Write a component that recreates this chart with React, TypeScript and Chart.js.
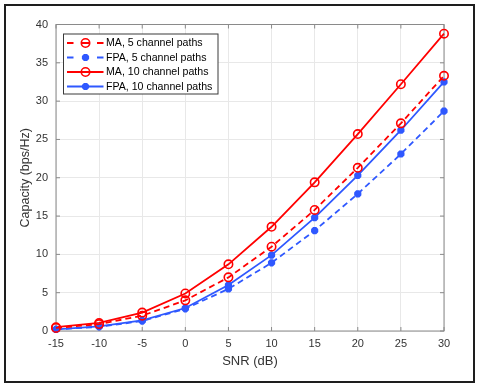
import React, { useEffect, useRef } from "react";
import { Chart, registerables } from "chart.js";

Chart.register(...registerables);

const snr = [-15, -10, -5, 0, 5, 10, 15, 20, 25, 30];
const ma5 = [0.4, 0.9, 2.0, 4.0, 7.0, 11.0, 15.8, 21.3, 27.1, 33.3];
const fpa5 = [0.2, 0.55, 1.3, 2.9, 5.5, 8.9, 13.1, 17.9, 23.1, 28.7];
const ma10 = [0.5, 1.05, 2.4, 4.9, 8.7, 13.6, 19.4, 25.7, 32.2, 38.8];
const fpa10 = [0.2, 0.6, 1.4, 3.0, 6.0, 9.9, 14.8, 20.3, 26.2, 32.5];
const seriesLabels = [
  "MA, 5 channel paths",
  "FPA, 5 channel paths",
  "MA, 10 channel paths",
  "FPA, 10 channel paths",
];
const xTitle = "SNR (dB)";
const yTitle = "Capacity (bps/Hz)";

const RED = "#ff0000";
const BLUE = "#2f58ff";
const FONT = "'Liberation Sans', Arial, Helvetica, sans-serif";
const AXIS = "#8a8a8a";

function drawMarker(ctx: CanvasRenderingContext2D, style: string, x: number, y: number, r: number, color: string, bw: number) {
  ctx.save();
  ctx.strokeStyle = color;
  ctx.lineWidth = bw;
  ctx.setLineDash([]);
  ctx.beginPath();
  if (style === "circle") {
    ctx.arc(x, y, r, 0, Math.PI * 2);
  } else {
    for (let i = 0; i < 4; i++) {
      const a = (i * Math.PI) / 4;
      ctx.moveTo(x - Math.cos(a) * r, y - Math.sin(a) * r);
      ctx.lineTo(x + Math.cos(a) * r, y + Math.sin(a) * r);
    }
  }
  ctx.stroke();
  ctx.restore();
}

const boxPlugin = {
  id: "boxTicks",
  beforeDatasetsDraw(chart: any) {
    const { ctx, chartArea: a, scales } = chart;
    ctx.save();
    ctx.strokeStyle = AXIS;
    ctx.lineWidth = 1;
    ctx.setLineDash([]);
    ctx.strokeRect(a.left, a.top, a.right - a.left, a.bottom - a.top);
    const tl = 4;
    ctx.beginPath();
    scales.x.ticks.forEach((t: any) => {
      const px = scales.x.getPixelForValue(t.value);
      ctx.moveTo(px, a.bottom);
      ctx.lineTo(px, a.bottom - tl);
      ctx.moveTo(px, a.top);
      ctx.lineTo(px, a.top + tl);
    });
    scales.y.ticks.forEach((t: any) => {
      const py = scales.y.getPixelForValue(t.value);
      ctx.moveTo(a.left, py);
      ctx.lineTo(a.left + tl, py);
      ctx.moveTo(a.right, py);
      ctx.lineTo(a.right - tl, py);
    });
    ctx.stroke();
    ctx.restore();
  },
};

const legendPlugin = {
  id: "innerLegend",
  afterDraw(chart: any) {
    const { ctx, chartArea: a } = chart;
    const left = a.left + 7.5;
    const top = a.top + 9.5;
    const w = 154.5;
    const h = 60;
    ctx.save();
    ctx.fillStyle = "#ffffff";
    ctx.fillRect(left, top, w, h);
    ctx.strokeStyle = "#3a3a3a";
    ctx.lineWidth = 1;
    ctx.strokeRect(left, top, w, h);
    chart.data.datasets.forEach((ds: any, i: number) => {
      const y = top + 9 + i * 14.5;
      ctx.strokeStyle = ds.borderColor;
      ctx.lineWidth = ds.borderWidth;
      ctx.setLineDash([]);
      ctx.beginPath();
      if (ds.borderDash && ds.borderDash.length) {
        ctx.moveTo(left + 3.5, y);
        ctx.lineTo(left + 10, y);
        ctx.moveTo(left + 33.5, y);
        ctx.lineTo(left + 40, y);
        if (ds.pointStyle === "circle") {
          ctx.moveTo(left + 18.5, y);
          ctx.lineTo(left + 25.5, y);
        }
      } else {
        ctx.moveTo(left + 3.5, y);
        ctx.lineTo(left + 40, y);
      }
      ctx.stroke();
      drawMarker(ctx, ds.pointStyle, left + 22, y, ds.pointRadius, ds.borderColor, ds.pointBorderWidth);
      ctx.fillStyle = "#000000";
      ctx.font = `10.6px ${FONT}`;
      ctx.textBaseline = "middle";
      ctx.textAlign = "left";
      ctx.fillText(ds.label, left + 42.5, y + 0.5);
    });
    ctx.restore();
  },
};

function mk(label: string, data: number[], color: string, dashed: boolean, style: string) {
  const isCircle = style === "circle";
  return {
    label,
    data: snr.map((x, i) => ({ x, y: data[i] })),
    borderColor: color,
    backgroundColor: "rgba(0,0,0,0)",
    borderWidth: 1.8,
    borderDash: dashed ? [6, 4] : [],
    pointStyle: style,
    pointRadius: isCircle ? 4.2 : 3.6,
    pointBorderWidth: isCircle ? 1.6 : 2.8,
    pointBackgroundColor: "rgba(0,0,0,0)",
    pointBorderColor: color,
    clip: false,
    tension: 0,
  };
}

export default function App() {
  const ref = useRef<HTMLCanvasElement>(null);
  useEffect(() => {
    if (!ref.current) return;
    const chart = new Chart(ref.current, {
      type: "line",
      data: {
        datasets: [
          mk(seriesLabels[0], ma5, RED, true, "circle"),
          mk(seriesLabels[1], fpa5, BLUE, true, "star"),
          mk(seriesLabels[2], ma10, RED, false, "circle"),
          mk(seriesLabels[3], fpa10, BLUE, false, "star"),
        ] as any,
      },
      options: {
        responsive: false,
        animation: false,
        devicePixelRatio: 1,
        layout: { padding: { left: 14, top: 24.5, right: 35, bottom: 16 } },
        plugins: { legend: { display: false }, tooltip: { enabled: false } },
        scales: {
          x: {
            type: "linear",
            min: -15,
            max: 30,
            afterFit: (s: any) => { s.height = 42; },
            ticks: { stepSize: 5, padding: 6, color: "#333333", font: { family: FONT, size: 11 } },
            grid: { color: "#e8e8e8", drawTicks: false },
            border: { display: false },
            title: { display: true, text: xTitle, color: "#333333", font: { family: FONT, size: 13 }, padding: { top: 4, bottom: 4 } },
          },
          y: {
            type: "linear",
            min: 0,
            max: 40,
            afterFit: (s: any) => { s.width = 42; },
            ticks: { stepSize: 5, padding: 8, color: "#333333", font: { family: FONT, size: 11 } },
            grid: { color: "#e8e8e8", drawTicks: false },
            border: { display: false },
            title: { display: true, text: yTitle, color: "#333333", font: { family: FONT, size: 12.5 }, padding: { top: 4, bottom: 4 } },
          },
        },
      },
      plugins: [boxPlugin, legendPlugin],
    });
    return () => chart.destroy();
  }, []);
  return (
    <div style={{ position: "fixed", left: 0, top: 0, width: 479, height: 389, background: "#fff" }}>
      <canvas ref={ref} width={479} height={389} style={{ position: "absolute", left: 0, top: 0, width: 479, height: 389 }} />
      <div style={{ position: "absolute", left: 4, top: 4, width: 467, height: 375, border: "2px solid #1e1e1e", pointerEvents: "none" }} />
    </div>
  );
}
